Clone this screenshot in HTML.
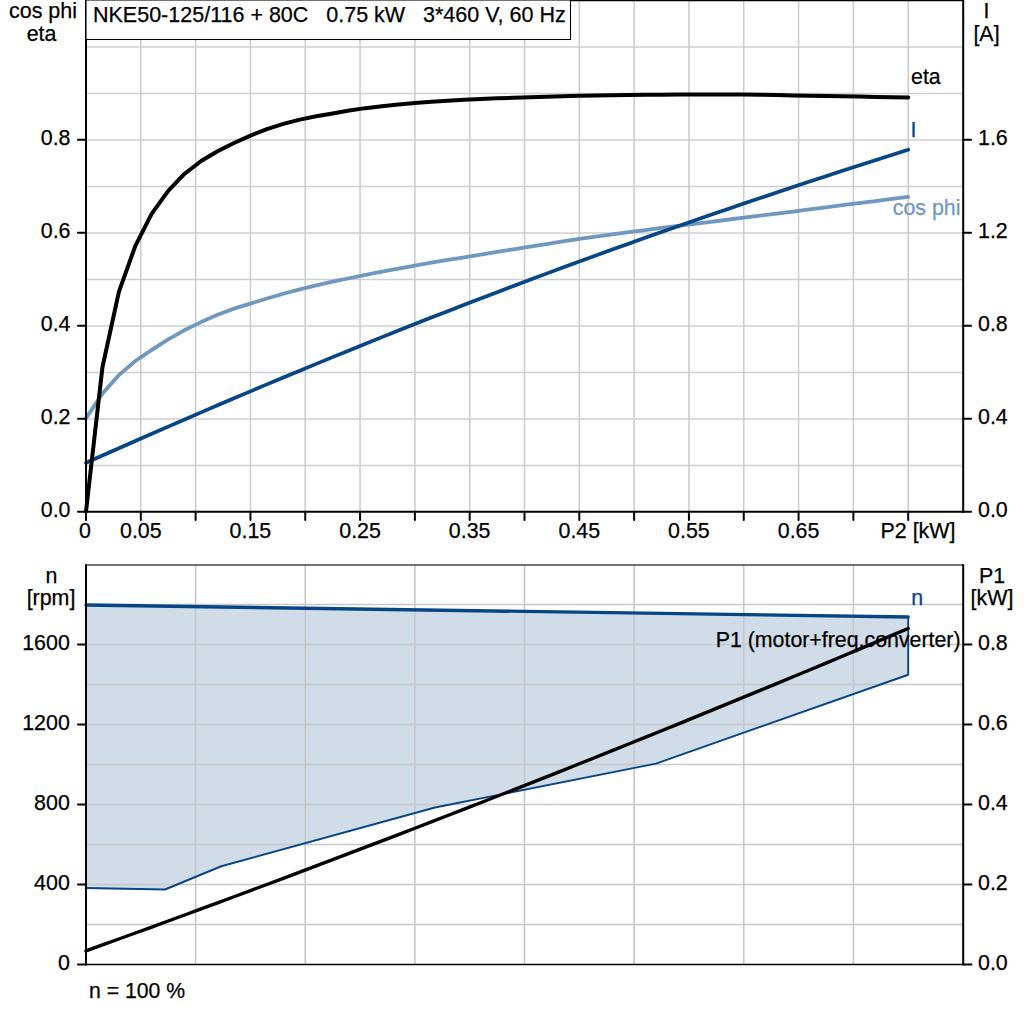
<!DOCTYPE html>
<html><head><meta charset="utf-8"><title>chart</title>
<style>html,body{margin:0;padding:0;background:#fff;}svg{display:block;}text{font-family:"Liberation Sans",sans-serif;font-size:21.4px;fill:#000;stroke:#000;stroke-width:0.25px;}</style>
</head><body>
<svg width="1024" height="1024" viewBox="0 0 1024 1024">
<rect x="0" y="0" width="1024" height="1024" fill="#fff"/>
<g stroke="#cccfd2" stroke-width="1.6" fill="none">
<line x1="140.81" y1="0" x2="140.81" y2="511.75"/>
<line x1="195.62" y1="0" x2="195.62" y2="511.75"/>
<line x1="250.44" y1="0" x2="250.44" y2="511.75"/>
<line x1="305.25" y1="0" x2="305.25" y2="511.75"/>
<line x1="360.06" y1="0" x2="360.06" y2="511.75"/>
<line x1="414.88" y1="0" x2="414.88" y2="511.75"/>
<line x1="469.69" y1="0" x2="469.69" y2="511.75"/>
<line x1="524.5" y1="0" x2="524.5" y2="511.75"/>
<line x1="579.31" y1="0" x2="579.31" y2="511.75"/>
<line x1="634.12" y1="0" x2="634.12" y2="511.75"/>
<line x1="688.94" y1="0" x2="688.94" y2="511.75"/>
<line x1="743.75" y1="0" x2="743.75" y2="511.75"/>
<line x1="798.56" y1="0" x2="798.56" y2="511.75"/>
<line x1="853.38" y1="0" x2="853.38" y2="511.75"/>
<line x1="908.19" y1="0" x2="908.19" y2="511.75"/>
<line x1="86" y1="465.5" x2="963" y2="465.5"/>
<line x1="86" y1="419" x2="963" y2="419"/>
<line x1="86" y1="372.5" x2="963" y2="372.5"/>
<line x1="86" y1="326" x2="963" y2="326"/>
<line x1="86" y1="279.5" x2="963" y2="279.5"/>
<line x1="86" y1="233" x2="963" y2="233"/>
<line x1="86" y1="186.5" x2="963" y2="186.5"/>
<line x1="86" y1="140" x2="963" y2="140"/>
<line x1="86" y1="93.5" x2="963" y2="93.5"/>
<line x1="86" y1="47" x2="963" y2="47"/>
</g>
<g fill="none" stroke-linecap="round" stroke-linejoin="round" stroke-width="3.8">
<polyline stroke="#7098bf" points="86,418.2 102.44,393.61 118.89,375.13 135.33,360.98 151.78,349.93 168.22,339.39 184.66,330.04 201.11,322.09 217.55,314.66 233.99,308.65 250.44,303.56 266.88,298.54 283.32,293.76 299.77,289.3 316.21,285.36 332.66,281.71 349.1,278.24 365.54,274.88 381.99,271.64 398.43,268.52 414.88,265.52 431.32,262.69 447.76,259.98 464.21,257.35 480.65,254.68 497.09,251.96 513.54,249.27 529.98,246.63 546.42,244.01 562.87,241.45 579.31,238.99 595.76,236.65 612.2,234.4 628.64,232.21 645.09,230.05 661.53,227.95 677.98,225.88 694.42,223.82 710.86,221.78 727.31,219.74 743.75,217.7 760.19,215.65 776.64,213.59 793.08,211.52 809.52,209.43 825.97,207.33 842.41,205.23 858.86,203.13 875.3,201.05 891.74,198.97 908.19,196.9"/>
<polyline stroke="#074685" stroke-width="3.7" points="86,462.8 102.44,455.49 118.89,448.21 135.33,440.97 151.78,433.77 168.22,426.6 184.66,419.47 201.11,412.37 217.55,405.32 233.99,398.31 250.44,391.33 266.88,384.41 283.32,377.52 299.77,370.68 316.21,363.88 332.66,357.13 349.1,350.42 365.54,343.76 381.99,337.15 398.43,330.58 414.88,324.07 431.32,317.59 447.76,311.17 464.21,304.8 480.65,298.47 497.09,292.19 513.54,285.96 529.98,279.77 546.42,273.64 562.87,267.55 579.31,261.51 595.76,255.51 612.2,249.56 628.64,243.66 645.09,237.81 661.53,232 677.98,226.23 694.42,220.51 710.86,214.83 727.31,209.19 743.75,203.6 760.19,198.04 776.64,192.53 793.08,187.05 809.52,181.61 825.97,176.21 842.41,170.84 858.86,165.5 875.3,160.2 891.74,154.93 908.19,149.7"/>
<polyline stroke="#000" stroke-width="4" points="86,511.5 102.44,367.24 118.89,291.86 135.33,245.84 151.78,213.67 168.22,190.83 184.66,173.73 201.11,160.99 217.55,151.29 233.99,142.96 250.44,135.57 266.88,129.16 283.32,123.9 299.77,119.65 316.21,116.27 332.66,113.43 349.1,110.54 365.54,108.14 381.99,106.16 398.43,104.44 414.88,102.99 431.32,101.75 447.76,100.68 464.21,99.77 480.65,99 497.09,98.35 513.54,97.76 529.98,97.22 546.42,96.68 562.87,96.2 579.31,95.8 595.76,95.47 612.2,95.19 628.64,94.96 645.09,94.79 661.53,94.63 677.98,94.52 694.42,94.5 710.86,94.52 727.31,94.55 743.75,94.6 760.19,94.77 776.64,95.08 793.08,95.41 809.52,95.7 825.97,96.01 842.41,96.31 858.86,96.6 875.3,96.88 891.74,97.14 908.19,97.4"/>
</g>
<g stroke="#000" stroke-width="2" fill="none" stroke-linecap="round">
<line x1="78" y1="511.75" x2="86" y2="511.75"/>
<line x1="963" y1="511.75" x2="971" y2="511.75"/>
<line x1="78" y1="418.75" x2="86" y2="418.75"/>
<line x1="963" y1="418.75" x2="971" y2="418.75"/>
<line x1="78" y1="325.75" x2="86" y2="325.75"/>
<line x1="963" y1="325.75" x2="971" y2="325.75"/>
<line x1="78" y1="232.75" x2="86" y2="232.75"/>
<line x1="963" y1="232.75" x2="971" y2="232.75"/>
<line x1="78" y1="139.75" x2="86" y2="139.75"/>
<line x1="963" y1="139.75" x2="971" y2="139.75"/>
<line x1="86" y1="511.75" x2="86" y2="520"/>
<line x1="140.81" y1="511.75" x2="140.81" y2="520"/>
<line x1="195.62" y1="511.75" x2="195.62" y2="520"/>
<line x1="250.44" y1="511.75" x2="250.44" y2="520"/>
<line x1="305.25" y1="511.75" x2="305.25" y2="520"/>
<line x1="360.06" y1="511.75" x2="360.06" y2="520"/>
<line x1="414.88" y1="511.75" x2="414.88" y2="520"/>
<line x1="469.69" y1="511.75" x2="469.69" y2="520"/>
<line x1="524.5" y1="511.75" x2="524.5" y2="520"/>
<line x1="579.31" y1="511.75" x2="579.31" y2="520"/>
<line x1="634.12" y1="511.75" x2="634.12" y2="520"/>
<line x1="688.94" y1="511.75" x2="688.94" y2="520"/>
<line x1="743.75" y1="511.75" x2="743.75" y2="520"/>
<line x1="798.56" y1="511.75" x2="798.56" y2="520"/>
<line x1="853.38" y1="511.75" x2="853.38" y2="520"/>
<line x1="908.19" y1="511.75" x2="908.19" y2="520"/>
</g>
<g stroke="#000" stroke-width="2" fill="none" stroke-linecap="square">
<line x1="86" y1="0" x2="86" y2="511.75"/>
<line x1="963.2" y1="0" x2="963.2" y2="511.75"/>
<line x1="86" y1="511.75" x2="963" y2="511.75"/>
<line x1="86" y1="0.2" x2="963" y2="0.2"/>
</g>
<rect x="86" y="0" width="484.5" height="39.5" fill="#fff" stroke="#000" stroke-width="1.1"/>
<text x="93" y="22" xml:space="preserve" style="font-size:21.5px">NKE50-125/116 + 80C   0.75 kW   3*460 V, 60 Hz</text>
<text x="70.5" y="517.05" text-anchor="end">0.0</text>
<text x="70.5" y="424.05" text-anchor="end">0.2</text>
<text x="70.5" y="331.05" text-anchor="end">0.4</text>
<text x="70.5" y="238.05" text-anchor="end">0.6</text>
<text x="70.5" y="145.05" text-anchor="end">0.8</text>
<text x="978" y="517.05">0.0</text>
<text x="978" y="424.05">0.4</text>
<text x="978" y="331.05">0.8</text>
<text x="978" y="238.05">1.2</text>
<text x="978" y="145.05">1.6</text>
<text x="43" y="18" text-anchor="middle" style="font-size:21.5px">cos phi</text>
<text x="41.5" y="40.5" text-anchor="middle">eta</text>
<text x="986.5" y="17.5" text-anchor="middle">I</text>
<text x="986.5" y="40.5" text-anchor="middle">[A]</text>
<text x="85" y="538" text-anchor="middle">0</text>
<text x="140.81" y="538" text-anchor="middle">0.05</text>
<text x="250.44" y="538" text-anchor="middle">0.15</text>
<text x="360.06" y="538" text-anchor="middle">0.25</text>
<text x="469.69" y="538" text-anchor="middle">0.35</text>
<text x="579.31" y="538" text-anchor="middle">0.45</text>
<text x="688.94" y="538" text-anchor="middle">0.55</text>
<text x="798.56" y="538" text-anchor="middle">0.65</text>
<text x="918" y="538" text-anchor="middle">P2 [kW]</text>
<text x="911" y="83.5">eta</text>
<text x="910.5" y="137" fill="#074685" style="fill:#074685;stroke:#074685">I</text>
<text x="960.5" y="214.7" text-anchor="end" style="fill:#7098bf;stroke:#7098bf">cos phi</text>
<polygon points="86,605 908.19,617 908.19,674.75 656,763.6 435,807.5 221.25,866.25 165,889.5 86,888" fill="#d0dce8" stroke="none"/>
<g stroke="#c5c8cb" stroke-width="1.6" fill="none">
<line x1="195.62" y1="565" x2="195.62" y2="964.5"/>
<line x1="305.25" y1="565" x2="305.25" y2="964.5"/>
<line x1="414.88" y1="565" x2="414.88" y2="964.5"/>
<line x1="524.5" y1="565" x2="524.5" y2="964.5"/>
<line x1="634.12" y1="565" x2="634.12" y2="964.5"/>
<line x1="743.75" y1="565" x2="743.75" y2="964.5"/>
<line x1="853.38" y1="565" x2="853.38" y2="964.5"/>
<line x1="86" y1="924.5" x2="963" y2="924.5"/>
<line x1="86" y1="884.5" x2="963" y2="884.5"/>
<line x1="86" y1="844.5" x2="963" y2="844.5"/>
<line x1="86" y1="804.5" x2="963" y2="804.5"/>
<line x1="86" y1="764.5" x2="963" y2="764.5"/>
<line x1="86" y1="724.5" x2="963" y2="724.5"/>
<line x1="86" y1="684.5" x2="963" y2="684.5"/>
<line x1="86" y1="644.5" x2="963" y2="644.5"/>
<line x1="86" y1="604.5" x2="963" y2="604.5"/>
</g>
<polyline points="908.19,617 908.19,674.75 656,763.6 435,807.5 221.25,866.25 165,889.5 86,888" fill="none" stroke="#074685" stroke-width="1.9" stroke-linejoin="round"/>
<polyline points="86,605 908.19,617" fill="none" stroke="#074685" stroke-width="3.4" stroke-linecap="round"/>
<text x="960.5" y="646.5" text-anchor="end" style="font-size:21.33px">P1 (motor+freq.converter)</text>
<polyline points="86,950.88 102.44,944.95 118.89,938.99 135.33,933.02 151.78,927.03 168.22,921.01 184.66,914.98 201.11,908.92 217.55,902.84 233.99,896.74 250.44,890.62 266.88,884.48 283.32,878.32 299.77,872.13 316.21,865.93 332.66,859.7 349.1,853.45 365.54,847.18 381.99,840.89 398.43,834.58 414.88,828.25 431.32,821.9 447.76,815.53 464.21,809.13 480.65,802.71 497.09,796.28 513.54,789.82 529.98,783.34 546.42,776.84 562.87,770.32 579.31,763.77 595.76,757.21 612.2,750.62 628.64,744.02 645.09,737.39 661.53,730.74 677.98,724.07 694.42,717.38 710.86,710.67 727.31,703.93 743.75,697.18 760.19,690.4 776.64,683.61 793.08,676.79 809.52,669.95 825.97,663.09 842.41,656.21 858.86,649.31 875.3,642.39 891.74,635.44 908.19,628.48" fill="none" stroke="#000" stroke-width="3.4" stroke-linecap="round" stroke-linejoin="round"/>
<text x="911.3" y="604.5" style="fill:#074685;stroke:#074685">n</text>
<g stroke="#000" stroke-width="2" fill="none" stroke-linecap="round">
<line x1="78" y1="964.5" x2="86" y2="964.5"/>
<line x1="963.5" y1="964.5" x2="971.5" y2="964.5"/>
<line x1="78" y1="884.5" x2="86" y2="884.5"/>
<line x1="963.5" y1="884.5" x2="971.5" y2="884.5"/>
<line x1="78" y1="804.5" x2="86" y2="804.5"/>
<line x1="963.5" y1="804.5" x2="971.5" y2="804.5"/>
<line x1="78" y1="724.5" x2="86" y2="724.5"/>
<line x1="963.5" y1="724.5" x2="971.5" y2="724.5"/>
<line x1="78" y1="644.5" x2="86" y2="644.5"/>
<line x1="963.5" y1="644.5" x2="971.5" y2="644.5"/>
</g>
<line x1="86" y1="565" x2="963.5" y2="565" stroke="#444" stroke-width="1.5"/>
<line x1="86" y1="964.5" x2="963.5" y2="964.5" stroke="#000" stroke-width="1.6"/>
<line x1="86" y1="564.25" x2="86" y2="965.3" stroke="#000" stroke-width="2"/>
<line x1="963.2" y1="564.25" x2="963.2" y2="965.3" stroke="#000" stroke-width="2"/>
<text x="69.8" y="970" text-anchor="end">0</text>
<text x="69.8" y="890" text-anchor="end">400</text>
<text x="69.8" y="810" text-anchor="end">800</text>
<text x="69.8" y="730" text-anchor="end">1200</text>
<text x="69.8" y="650" text-anchor="end">1600</text>
<text x="978" y="969.9">0.0</text>
<text x="978" y="889.9">0.2</text>
<text x="978" y="809.9">0.4</text>
<text x="978" y="729.9">0.6</text>
<text x="978" y="649.9">0.8</text>
<text x="51.5" y="582.5" text-anchor="middle">n</text>
<text x="51" y="604.5" text-anchor="middle">[rpm]</text>
<text x="992" y="582.5" text-anchor="middle">P1</text>
<text x="992" y="604.5" text-anchor="middle">[kW]</text>
<text x="89" y="997.5" style="font-size:21.2px">n = 100 %</text>
</svg>
</body></html>
